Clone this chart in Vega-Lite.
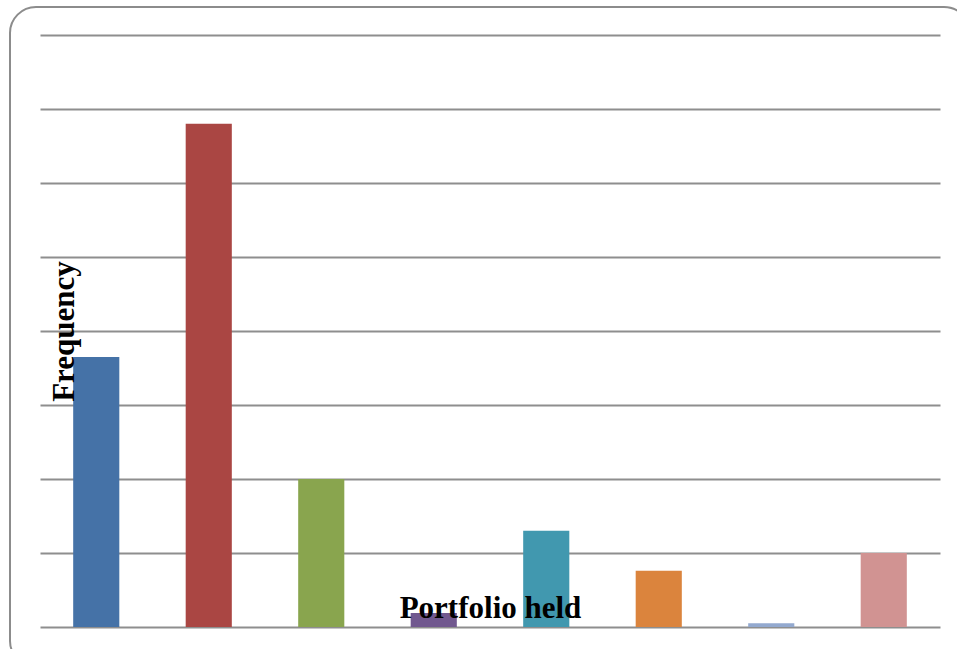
{
  "$schema": "https://vega.github.io/schema/vega-lite/v6.json",
  "autosize": {"type": "none"},
  "width": 960,
  "height": 660,
  "padding": {"left": 10, "top": 7, "right": 0, "bottom": 0},
  "background": "white",
  "config": {
    "view": {"stroke": "#8c8c8c", "strokeWidth": 2, "cornerRadius": 26},
    "font": "Liberation Serif"
  },
  "data": {
    "values": [
      {"portfolio": "1", "frequency": 36.5},
      {"portfolio": "2", "frequency": 68},
      {"portfolio": "3", "frequency": 20},
      {"portfolio": "4", "frequency": 1.9},
      {"portfolio": "5", "frequency": 13},
      {"portfolio": "6", "frequency": 7.6},
      {"portfolio": "7", "frequency": 0.5},
      {"portfolio": "8", "frequency": 10}
    ]
  },
  "encoding": {
    "x": {
      "field": "portfolio",
      "type": "nominal",
      "sort": null,
      "scale": {"range": [30, 930], "paddingInner": 0.59, "paddingOuter": 0.295},
      "axis": {
        "title": "Portfolio held",
        "labels": false, "ticks": false, "domain": false, "grid": false,
        "titleFont": "Liberation Serif", "titleFontSize": 31, "titleFontWeight": "bold",
        "titleColor": "black", "titleX": 480, "titleY": -50,
        "titleAlign": "center", "titleBaseline": "alphabetic", "zindex": 1
      }
    },
    "y": {
      "field": "frequency",
      "type": "quantitative",
      "scale": {"domain": [0, 80], "range": [620, 28], "nice": false, "zero": true}
    }
  },
  "resolve": {"axis": {"y": "independent"}},
  "layer": [
    {
      "mark": {"type": "bar"},
      "encoding": {
        "y": {
          "field": "frequency",
          "type": "quantitative",
          "axis": {
            "title": null, "labels": false, "ticks": false, "domain": false,
            "grid": true, "values": [0, 10, 20, 30, 40, 50, 60, 70, 80],
            "gridColor": "#8e8e8e", "gridWidth": 1.8, "gridOpacity": 1, "zindex": 0
          }
        },
        "color": {
          "field": "portfolio",
          "type": "nominal",
          "legend": null,
          "scale": {
            "domain": ["1", "2", "3", "4", "5", "6", "7", "8"],
            "range": ["#4572A7", "#AA4643", "#89A54E", "#71588F", "#4198AF", "#DB843D", "#93A9CF", "#D19392"]
          }
        }
      }
    },
    {
      "mark": {"type": "bar", "opacity": 0},
      "encoding": {
        "y": {
          "field": "frequency",
          "type": "quantitative",
          "axis": {
            "orient": "right",
            "title": "Frequency", "labels": false, "ticks": false, "domain": false, "grid": false,
            "titleFont": "Liberation Serif", "titleFontSize": 31, "titleFontWeight": "bold",
            "titleColor": "black", "titleAngle": 270, "titleX": -897, "titleY": 324,
            "titleAlign": "center", "titleBaseline": "alphabetic", "zindex": 1
          }
        }
      }
    }
  ]
}
